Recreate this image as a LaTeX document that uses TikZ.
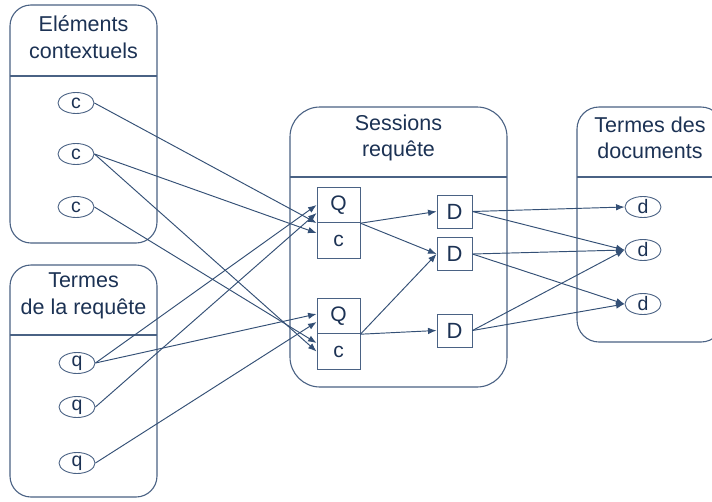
\documentclass[tikz,border=0pt]{standalone}
\usepackage{fontspec}
\setmainfont{Liberation Sans}
\usetikzlibrary{arrows.meta,shapes.geometric}
\definecolor{edgecol}{RGB}{52,80,118}
\definecolor{inkcol}{RGB}{28,50,84}
\definecolor{framecol}{RGB}{74,98,132}
\begin{document}
\begin{tikzpicture}[x=1pt,y=-1pt,
  panel/.style={draw=framecol,line width=1.1pt,fill=white,rectangle,inner sep=0pt},
  ptitle/.style={text=inkcol,align=center,font=\fontsize{21.5}{26.5}\selectfont,inner sep=0pt},
  divline/.style={draw=framecol,line width=1.1pt},
  term/.style={draw=framecol,line width=0.9pt,ellipse,fill=white,minimum width=36pt,minimum height=21pt,inner sep=0pt,text=inkcol,font=\fontsize{19.5}{19.5}\selectfont},
  cell/.style={draw=framecol,line width=0.9pt,rectangle,fill=white,minimum width=43pt,minimum height=35.5pt,inner sep=0pt,text=inkcol,font=\fontsize{21}{21}\selectfont},
  dbox/.style={draw=framecol,line width=0.9pt,rectangle,fill=white,minimum width=35pt,minimum height=33pt,inner sep=0pt,text=inkcol,font=\fontsize{22}{22}\selectfont},
  link/.style={draw=edgecol,line width=0.95pt,-{Latex[length=8.5pt,width=6.5pt]}}]
\useasboundingbox (0,0) rectangle (712,501);
\clip (0,0) rectangle (712,501);
\fill[white] (0,0) rectangle (712,501);

% panels
\node[panel,rounded corners=21pt,minimum width=147pt,minimum height=238pt] (ctx) at (83.5,124) {};
\draw[divline] (10,76) -- (157,76);
\node[ptitle] (ctxt) at (83.5,37) {Eléments\\contextuels};

\node[panel,rounded corners=21pt,minimum width=147pt,minimum height=232pt] (qry) at (83.5,381) {};
\draw[divline] (10,335) -- (157,335);
\node[ptitle] (qryt) at (83.5,296) {Termes\\de la requête};

\node[panel,rounded corners=30pt,minimum width=217pt,minimum height=280pt] (ses) at (398.5,247) {};
\draw[divline] (290,177) -- (507,177);
\node[ptitle] (sest) at (398.5,138) {Sessions\\requête};

\node[panel,rounded corners=22pt,minimum width=146pt,minimum height=235pt] (doc) at (650,224.5) {};
\draw[divline] (577,177) -- (723,177);
\node[ptitle] (doct) at (650,138) {Termes des\\documents};

% terms
\node[term] (c1) at (76,103) {c};
\node[term] (c2) at (76,154) {c};
\node[term] (c3) at (76,207) {c};
\node[term] (q1) at (77,363) {q};
\node[term] (q2) at (77,407) {q};
\node[term] (q3) at (77,463) {q};
\node[term] (d1) at (643,207) {d};
\node[term] (d2) at (643,250) {d};
\node[term] (d3) at (643,304) {d};

% session cells
\node[cell] (b1q) at (338.5,205) {Q};
\node[cell] (b1c) at (338.5,240.5) {c};
\node[cell] (b2q) at (338.5,316) {Q};
\node[cell] (b2c) at (338.5,351.5) {c};

\node[dbox] (D1) at (454.5,211.5) {D};
\node[dbox] (D2) at (454.5,254) {D};
\node[dbox] (D3) at (454.5,330.5) {D};

% connectors into sessions
\draw[link] (c1.east) -- ([yshift=-18pt]b1q.west);
\draw[link] (c2.east) -- ([yshift=7.5pt]b1c.west);
\draw[link] (q1.east) -- (b1q.west);
\draw[link] (q2.east) -- ([yshift=-8pt]b1q.west);
\draw[link] (q1.east) -- ([yshift=2pt]b2q.west);
\draw[link] (q3.east) -- ([yshift=-6pt]b2q.west);
\draw[link] (c3.east) -- ([yshift=8.5pt]b2c.west);
\draw[link] (c2.east) -- (b2c.west);

% sessions to documents
\draw[link] (b1q.south east) -- (D1.west);
\draw[link] (b1q.south east) -- (D2.west);
\draw[link] (b2q.south east) -- (D2.west);
\draw[link] (b2q.south east) -- (D3.west);

% documents to terms
\draw[link] (D1.east) -- (d1.west);
\draw[link] (D1.east) -- (d2.west);
\draw[link] (D2.east) -- (d2.west);
\draw[link] (D2.east) -- (d3.west);
\draw[link] (D3.east) -- (d2.west);
\draw[link] (D3.east) -- (d3.west);
\end{tikzpicture}
\end{document}
